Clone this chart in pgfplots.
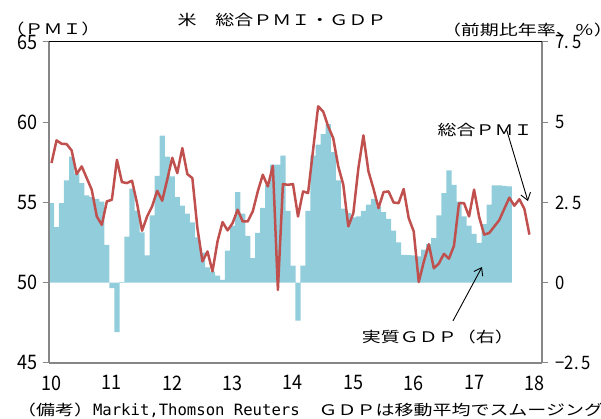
\documentclass[border=0pt]{standalone}
\usepackage{fontspec}
\setmainfont{Noto Sans CJK JP}
\newfontfamily\jp[FakeStretch=1.3]{Noto Sans CJK JP}
\newfontfamily\num[FakeStretch=0.9]{Noto Sans CJK JP}
\newfontfamily\mono{DejaVu Sans Mono}
\usepackage{pgfplots}
\pgfplotsset{compat=1.18}
\usetikzlibrary{arrows.meta}
\definecolor{barblue}{RGB}{146,205,220}
\definecolor{pmired}{RGB}{192,80,77}
\definecolor{axgray}{RGB}{134,134,134}
\begin{document}
\begin{tikzpicture}
\path[use as bounding box] (-49pt,-56pt) rectangle (552pt,363pt);
% GDP bars (right axis)
\begin{axis}[
  at={(0pt,0pt)}, anchor=south west,
  scale only axis, width=493pt, height=321pt,
  xmin=-0.5, xmax=97.5, ymin=-2.5, ymax=7.5,
  enlargelimits=false,
  axis x line=none, axis y line*=right,
  axis line style={-, draw=axgray, line width=1.2pt},
  ytick={-2.5,0,2.5,5,7.5},
  yticklabels={−2.\kern3pt5,0,2.\kern3pt5,5,7.\kern3pt5},
  tick align=outside, major tick length=6pt,
  tick style={draw=axgray, line width=1pt},
  yticklabel style={font=\num\fontsize{18.5}{19}\selectfont, xshift=4pt},
  clip=false,
]
\addplot[ybar, bar width=1.04, bar shift=0pt, fill=barblue, draw=none] coordinates {
(0,2.48) (1,1.73) (2,2.48) (3,3.19) (4,3.93) (5,3.40) (6,3.10) (7,2.72) (8,2.67) (9,2.61)
(10,2.53) (11,1.18) (12,-0.17) (13,-1.54) (14,0.02) (15,1.44) (16,2.93) (17,2.25) (18,1.57) (19,0.85)
(20,2.10) (21,3.33) (22,4.58) (23,3.93) (24,3.31) (25,2.67) (26,2.40) (27,2.15) (28,1.88) (29,1.41)
(30,0.94) (31,0.48) (32,0.35) (33,0.22) (34,0.09) (35,1.00) (36,1.78) (37,2.82) (38,2.15) (39,1.46)
(40,0.77) (41,1.55) (42,2.33) (43,3.05) (44,3.68) (45,3.68) (46,3.96) (47,2.24) (48,0.53) (49,-1.18)
(50,0.53) (51,2.24) (52,3.96) (53,4.30) (54,4.63) (55,4.94) (56,4.07) (57,3.19) (58,2.31) (59,2.17)
(60,2.04) (61,2.07) (62,2.24) (63,2.43) (64,2.61) (65,2.38) (66,2.20) (67,1.99) (68,1.62) (69,1.26)
(70,0.87) (71,0.86) (72,0.85) (73,0.82) (74,1.03) (75,1.21) (76,1.39) (77,2.10) (78,2.79) (79,3.50)
(80,3.05) (81,2.53) (82,2.07) (83,1.78) (84,1.52) (85,1.24) (86,1.83) (87,2.43) (88,3.03) (89,3.03)
(90,3.02) (91,3.00)
};
\end{axis}
% PMI line (left axis)
\begin{axis}[
  at={(0pt,0pt)}, anchor=south west,
  scale only axis, width=493pt, height=321pt,
  xmin=-0.5, xmax=97.5, ymin=45, ymax=65,
  enlargelimits=false,
  axis x line*=bottom, axis y line*=left,
  axis line style={-, draw=axgray, line width=1.2pt},
  xtick={0,12,24,36,48,60,72,84,96},
  xticklabels={10,11,12,13,14,15,16,17,18},
  ytick={45,50,55,60,65},
  yticklabels={45,50,55,60,65},
  tick align=outside, major tick length=6pt,
  y tick style={draw=axgray, line width=1pt},
  x tick style={draw=none},
  major x tick style={draw=none},
  yticklabel style={font=\num\fontsize{20}{20}\selectfont, xshift=-2pt},
  xticklabel style={font=\num\fontsize{20}{20}\selectfont, yshift=-3pt},
  clip=false,
]
\addplot[pmired, line width=2.5pt, line join=round, mark=none] coordinates {
(0,57.46) (1,58.87) (2,58.66) (3,58.64) (4,58.24) (5,56.77) (6,57.25) (7,56.52) (8,55.79) (9,54.13)
(10,53.61) (11,55.07) (12,55.17) (13,57.66) (14,56.27) (15,56.21) (16,56.36) (17,54.96) (18,53.24) (19,54.13)
(20,54.76) (21,55.73) (22,55.11) (23,56.42) (24,57.79) (25,56.83) (26,58.39) (27,56.77) (28,56.52) (29,53.41)
(30,51.33) (31,51.95) (32,50.71) (33,52.58) (34,53.78) (35,53.26) (36,53.72) (37,54.55) (38,53.82) (39,53.82)
(40,54.44) (41,55.69) (42,56.73) (43,56.00) (44,57.29) (45,49.55) (46,56.15) (47,56.10) (48,56.15) (49,54.13)
(50,55.69) (51,55.59) (52,58.29) (53,60.99) (54,60.67) (55,59.74) (56,59.01) (57,57.25) (58,56.11) (59,53.51)
(60,54.34) (61,57.14) (62,59.18) (63,56.94) (64,55.86) (65,54.65) (66,55.65) (67,55.69) (68,55.00) (69,54.96)
(70,55.84) (71,54.03) (72,53.20) (73,50.05) (74,51.30) (75,52.40) (76,50.90) (77,51.20) (78,51.80) (79,51.50)
(80,52.30) (81,54.96) (82,54.96) (83,54.13) (84,55.80) (85,54.10) (86,53.00) (87,53.10) (88,53.50) (89,53.90)
(90,54.60) (91,55.30) (92,54.80) (93,55.20) (94,54.60) (95,53.00)
};
\draw[black, line width=1pt] (rel axis cs:0,1) -- (rel axis cs:1,1);
% titles
\node[font=\jp\fontsize{14.6}{16}\selectfont] at (axis cs:45.8,66.37) {米　総合ＰＭＩ・ＧＤＰ};
\node[font=\jp\fontsize{14.6}{16}\selectfont] at (axis cs:0.3,65.84) {（ＰＭＩ）};
\node[font=\jp\fontsize{14.6}{16}\selectfont] at (axis cs:94.6,65.75) {（前期比年率、％）};
% annotations
\node[font=\jp\fontsize{14.6}{16}\selectfont] at (axis cs:86.2,59.52) {総合ＰＭＩ};
\draw[black, line width=0.9pt, -{Straight Barb[length=7pt,width=10pt]}] (axis cs:90.4,59.6) -- (axis cs:94.7,55.09);
\node[font=\jp\fontsize{14.6}{16}\selectfont] at (axis cs:76.8,46.62) {実質ＧＤＰ（右）};
\draw[black, line width=0.9pt, -{Straight Barb[length=7pt,width=10pt]}] (axis cs:79.8,47.62) -- (axis cs:85.57,50.98);
% note
\node[anchor=west, inner sep=0pt] at (rel axis cs:-0.065,-0.146) {\jp\fontsize{14.6}{16}\selectfont （備考）\mono\fontsize{15.6}{16}\selectfont Markit,Thomson Reuters\jp\fontsize{14.6}{16}\selectfont 　ＧＤＰは移動平均でスムージング};
\end{axis}
\end{tikzpicture}
\end{document}
